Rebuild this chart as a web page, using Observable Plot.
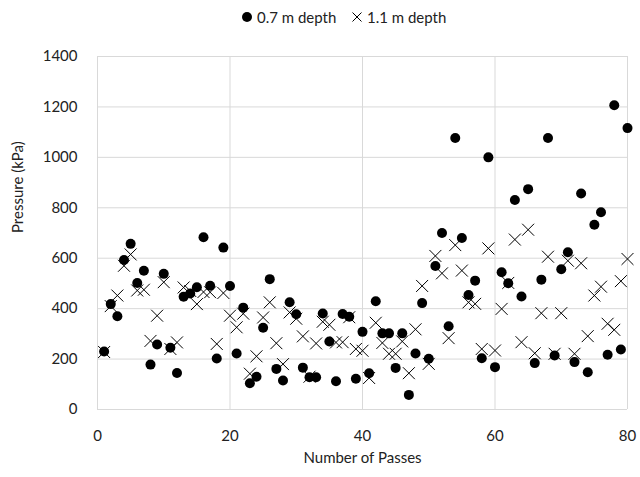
<!DOCTYPE html>
<html>
<head>
<meta charset="utf-8">
<script src="https://cdn.jsdelivr.net/npm/d3@7"></script>
<script src="https://cdn.jsdelivr.net/npm/@observablehq/plot@0.6"></script>
<style>
  body { margin: 0; background: #fff; font-family: Lato, "Open Sans", sans-serif; }
  #legend { position: relative; height: 34px; width: 640px; font-size: 15px; color: #222; }
  #legend .item { position: absolute; top: 8px; display: flex; align-items: center; height: 18px; }
  #legend svg { margin-right: 4px; }
</style>
</head>
<body>
<div id="legend">
  <div class="item" style="left:241px"><svg width="12" height="12"><circle cx="6" cy="6" r="5" fill="#000"/></svg><span>0.7 m depth</span></div>
  <div class="item" style="left:351px"><svg width="12" height="12"><path d="M1.5,1.5L10.5,10.5M10.5,1.5L1.5,10.5" stroke="#000" stroke-width="1"/></svg><span>1.1 m depth</span></div>
</div>
<div id="chart"></div>
<script>
const passes = d3.range(1, 81);
const depth07 = [230, 418, 370, 593, 657, 502, 550, 178, 258, 538,
  245, 145, 447, 460, 485, 683, 491, 202, 642, 490,
  222, 404, 104, 130, 324, 517, 161, 115, 425, 378,
  166, 128, 128, 381, 270, 112, 379, 368, 122, 308,
  144, 429, 302, 302, 165, 302, 58, 222, 422, 201,
  569, 700, 330, 1077, 680, 454, 511, 203, 1000, 168,
  544, 501, 831, 448, 874, 184, 515, 1077, 214, 556,
  624, 188, 857, 148, 733, 782, 217, 1207, 238, 1116];
const depth11 = [228, 410, 452, 570, 615, 472, 475, 272, 372, 505,
  240, 266, 484, 470, 418, 466, 465, 260, 462, 372,
  326, 380, 142, 211, 365, 425, 263, 180, 385, 360,
  290, 130, 262, 348, 336, 266, 267, 366, 240, 233,
  125, 344, 264, 221, 221, 270, 144, 318, 490, 181,
  609, 540, 283, 652, 551, 425, 419, 240, 639, 234,
  399, 502, 674, 267, 713, 223, 382, 606, 221, 382,
  590, 221, 580, 291, 452, 487, 340, 316, 509, 597];
const xTicks = [0, 20, 40, 60, 80];
const yTicks = [0, 200, 400, 600, 800, 1000, 1200, 1400];
const xTitle = "Number of Passes";
const yTitle = "Pressure (kPa)";

const s07 = passes.map((p, i) => ({pass: p, value: depth07[i]}));
const s11 = passes.map((p, i) => ({pass: p, value: depth11[i]}));

const chart = Plot.plot({
  width: 640,
  height: 443,
  marginTop: 22,
  marginBottom: 68,
  marginLeft: 97,
  marginRight: 13,
  style: {fontFamily: "Lato, 'Open Sans', sans-serif", fontSize: "15px", color: "#222", background: "#fff"},
  x: {domain: [0, 80], ticks: xTicks},
  y: {domain: [0, 1400], ticks: yTicks},
  marks: [
    Plot.gridX(xTicks, {stroke: "#d9d9d9", strokeOpacity: 1, strokeWidth: 1}),
    Plot.gridY(yTicks, {stroke: "#d9d9d9", strokeOpacity: 1, strokeWidth: 1}),
    Plot.axisX({ticks: xTicks, tickSize: 0, tickPadding: 21, label: null, fontSize: 15, tickFormat: d => String(d)}),
    Plot.axisY({ticks: yTicks, tickSize: 0, tickPadding: 20, label: null, fontSize: 15, tickFormat: d => String(d)}),
    Plot.dot(s07, {x: "pass", y: "value", r: 5, fill: "#000", stroke: "none"}),
    Plot.dot(s11, {x: "pass", y: "value", r: 5.5, symbol: "times", stroke: "#000", strokeWidth: 1}),
    Plot.text([xTitle], {frameAnchor: "bottom", dy: 53, fontSize: 15, fill: "#222"}),
    Plot.text([yTitle], {frameAnchor: "left", dx: -79, rotate: -90, fontSize: 15, fill: "#222"})
  ]
});
document.getElementById("chart").appendChild(chart);
</script>
</body>
</html>
